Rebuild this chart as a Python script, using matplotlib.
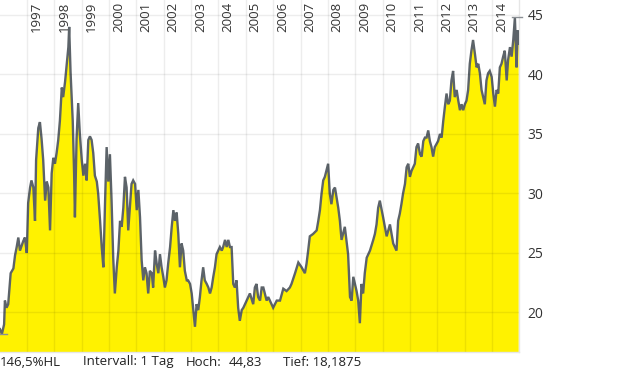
import matplotlib
matplotlib.use("Agg")
import matplotlib.pyplot as plt

# ---- data (decimal year, price) ----
years = [
    1996.01, 1996.08, 1996.16, 1996.19, 1996.25, 1996.31, 1996.40, 1996.50, 1996.56, 1996.62,
    1996.68, 1996.74, 1996.86, 1996.92, 1996.99, 1997.04, 1997.11, 1997.16, 1997.23, 1997.29,
    1997.33, 1997.41, 1997.47, 1997.53, 1997.59, 1997.66, 1997.72, 1997.78, 1997.84, 1997.90,
    1997.96, 1998.02, 1998.08, 1998.14, 1998.20, 1998.27, 1998.32, 1998.39, 1998.45, 1998.51,
    1998.54, 1998.59, 1998.67, 1998.72, 1998.75, 1998.81, 1998.87, 1998.93, 1999.00, 1999.06,
    1999.12, 1999.18, 1999.24, 1999.30, 1999.36, 1999.42, 1999.48, 1999.55, 1999.60, 1999.67,
    1999.73, 1999.79, 1999.85, 1999.91, 1999.97, 2000.03, 2000.09, 2000.15, 2000.21, 2000.28,
    2000.34, 2000.40, 2000.46, 2000.52, 2000.58, 2000.64, 2000.70, 2000.76, 2000.82, 2000.88,
    2000.95, 2001.01, 2001.07, 2001.13, 2001.19, 2001.25, 2001.31, 2001.37, 2001.43, 2001.49,
    2001.56, 2001.61, 2001.68, 2001.74, 2001.80, 2001.86, 2001.92, 2001.98, 2002.04, 2002.10,
    2002.16, 2002.23, 2002.29, 2002.35, 2002.41, 2002.47, 2002.53, 2002.59, 2002.65, 2002.71,
    2002.77, 2002.84, 2002.89, 2002.96, 2003.02, 2003.08, 2003.14, 2003.20, 2003.26, 2003.32,
    2003.38, 2003.44, 2003.50, 2003.57, 2003.63, 2003.69, 2003.75, 2003.81, 2003.87, 2003.93,
    2003.99, 2004.05, 2004.12, 2004.17, 2004.24, 2004.30, 2004.36, 2004.42, 2004.48, 2004.54,
    2004.60, 2004.66, 2004.72, 2004.78, 2004.85, 2004.91, 2004.97, 2005.03, 2005.09, 2005.15,
    2005.27, 2005.33, 2005.39, 2005.45, 2005.52, 2005.58, 2005.64, 2005.76, 2005.82, 2005.94,
    2006.00, 2006.13, 2006.25, 2006.37, 2006.49, 2006.61, 2006.67, 2006.80, 2006.92, 2007.04,
    2007.16, 2007.22, 2007.28, 2007.34, 2007.46, 2007.59, 2007.65, 2007.71, 2007.77, 2007.83,
    2007.89, 2008.01, 2008.07, 2008.13, 2008.20, 2008.26, 2008.38, 2008.44, 2008.50, 2008.62,
    2008.74, 2008.81, 2008.87, 2008.93, 2009.05, 2009.11, 2009.17, 2009.23, 2009.29, 2009.35,
    2009.42, 2009.54, 2009.66, 2009.72, 2009.78, 2009.84, 2009.90, 2010.02, 2010.15, 2010.27,
    2010.39, 2010.45, 2010.51, 2010.57, 2010.63, 2010.69, 2010.75, 2010.82, 2010.88, 2010.94,
    2011.00, 2011.06, 2011.12, 2011.18, 2011.24, 2011.30, 2011.37, 2011.43, 2011.49, 2011.55,
    2011.61, 2011.67, 2011.73, 2011.79, 2011.85, 2011.91, 2011.98, 2012.03, 2012.10, 2012.16,
    2012.22, 2012.28, 2012.34, 2012.40, 2012.46, 2012.52, 2012.58, 2012.64, 2012.71, 2012.77,
    2012.83, 2012.89, 2012.95, 2013.01, 2013.07, 2013.13, 2013.19, 2013.25, 2013.31, 2013.38,
    2013.44, 2013.50, 2013.56, 2013.62, 2013.68, 2013.74, 2013.80, 2013.86, 2013.92, 2013.99,
    2014.05, 2014.11, 2014.17, 2014.23, 2014.29, 2014.35, 2014.41, 2014.47, 2014.54, 2014.59,
    2014.66, 2014.72, 2014.78, 2014.84, 2014.90, 2014.94, 2014.98,
]
prices = [
    18.6, 18.2, 19.0, 21.0, 20.4, 20.7, 23.3, 23.7, 24.8, 25.5,
    26.3, 25.2, 26.0, 26.3, 25.0, 29.2, 30.5, 31.1, 30.5, 27.7,
    32.8, 35.5, 36.0, 34.6, 32.8, 29.4, 31.0, 30.5, 26.9, 31.7,
    33.0, 32.5, 33.4, 34.5, 36.1, 38.9, 38.1, 39.4, 40.9, 42.3,
    44.0, 40.2, 36.1, 31.7, 28.0, 34.6, 37.6, 35.0, 32.8, 31.5,
    32.5, 31.1, 34.5, 34.8, 34.5, 33.4, 31.5, 31.0, 30.0, 27.7,
    25.5, 23.8, 29.1, 33.9, 31.0, 33.3, 29.4, 24.6, 21.6, 23.8,
    25.2, 27.7, 27.2, 28.8, 31.4, 30.5, 26.9, 28.8, 30.8, 31.1,
    30.8, 28.6, 30.3, 28.0, 24.4, 22.7, 23.8, 23.3, 21.6, 23.5,
    23.3, 22.1, 25.2, 24.1, 23.3, 24.9, 23.8, 23.0, 22.1, 22.7,
    24.1, 25.5, 27.2, 28.6, 27.7, 28.4, 26.6, 23.8, 25.8, 25.2,
    23.5, 22.7, 22.7, 22.4, 21.6, 20.2, 18.8, 20.7, 20.2, 21.3,
    22.7, 23.8, 22.7, 22.4, 22.1, 21.6, 22.1, 23.0, 23.8, 24.9,
    25.2, 25.5, 25.2, 25.5, 26.1, 25.5, 26.1, 25.5, 25.5, 22.4,
    22.1, 22.7, 20.4, 19.3, 20.2, 20.4, 20.7, 21.0, 21.3, 21.6,
    20.7, 22.1, 22.4, 21.3, 21.0, 22.1, 22.1, 21.0, 21.3, 20.7,
    20.4, 21.0, 21.0, 22.0, 21.8, 22.1, 22.4, 23.3, 24.2, 23.8,
    23.3, 24.1, 25.2, 26.4, 26.6, 26.9, 27.7, 28.6, 30.0, 31.1,
    31.4, 32.5, 30.0, 29.1, 30.3, 30.5, 28.8, 27.7, 26.1, 27.2,
    24.9, 21.3, 21.0, 23.0, 21.8, 21.0, 19.1, 22.4, 21.6, 23.3,
    24.6, 25.2, 26.1, 26.6, 27.4, 28.8, 29.4, 28.0, 26.4, 27.4,
    25.8, 25.5, 25.2, 27.7, 28.3, 29.1, 30.0, 30.8, 32.2, 32.5,
    31.4, 31.9, 32.2, 32.5, 33.9, 34.2, 33.3, 33.1, 34.4, 34.7,
    34.7, 35.3, 34.4, 33.9, 33.1, 33.9, 34.2, 34.4, 35.0, 34.7,
    36.1, 37.3, 38.4, 37.5, 37.8, 39.5, 40.3, 38.1, 38.7, 37.8,
    37.0, 37.5, 37.0, 37.5, 37.8, 38.7, 40.9, 42.0, 42.9, 41.7,
    40.6, 40.9, 40.1, 38.7, 38.1, 37.5, 39.5, 40.1, 40.3, 39.8,
    38.4, 37.3, 38.7, 38.4, 40.6, 40.9, 41.5, 42.0, 39.5, 41.2,
    42.3, 41.5, 42.9, 44.8, 40.6, 43.7, 42.6,
]
year_labels = list(range(1997, 2015))
y_ticks = [20, 25, 30, 35, 40, 45]
high_value = 44.83
low_value = 18.1875
footer = ["146,5%HL", "Intervall: 1 Tag", "Hoch:", "44,83", "Tief: 18,1875"]

plt.rcParams['font.family'] = ['Open Sans', 'DejaVu Sans']

W, H = 620, 372
fig = plt.figure(figsize=(W / 100, H / 100), dpi=100)
ax = fig.add_axes([0, 1 - 352 / H, 519 / W, 352 / H])

ax.set_xlim(1996.01, 2014.99)
ax.set_ylim(16.68, 46.26)

ax.fill_between(years, prices, 0, color='#fff200', lw=0, zorder=2)
ax.plot(years, prices, color='#5c6369', lw=1.7, zorder=3, solid_joinstyle='miter')

# grid lines on top (subtle)
for yv in y_ticks:
    ax.axhline(yv, color='black', alpha=0.07, lw=1, zorder=4)
for yr in year_labels:
    ax.axvline(yr, color='black', alpha=0.07, lw=1, zorder=4)

# high / low markers
ax.plot([years[0], years[0] + 0.25], [low_value, low_value], color='#8a8f94', lw=1, zorder=5)
ax.plot([2014.73, 2015.1], [high_value, high_value], color='#8a8f94', lw=1,
        zorder=5, clip_on=False)

# year labels at top
for yr in year_labels:
    ax.annotate(str(yr), xy=(yr, 1.0), xycoords=('data', 'axes fraction'),
                xytext=(6.8, -1.5), textcoords='offset points', rotation=90,
                ha='center', va='top', fontsize=9.5, color='#333333', zorder=6)

ax.yaxis.tick_right()
ax.set_yticks(y_ticks)
ax.set_yticklabels([str(v) for v in y_ticks], fontsize=10, color='#333333')
ax.tick_params(axis='y', length=0, pad=6)
ax.set_xticks([])

for s in ['top', 'left']:
    ax.spines[s].set_visible(False)
for s in ['right', 'bottom']:
    ax.spines[s].set_color('#e6e6e6')
    ax.spines[s].set_linewidth(1)
ax.set_facecolor('white')

fx = [0, 82.7, 186, 228.3, 283.3]
for t, x in zip(footer, fx):
    fig.text(x / W, 1 - 362 / H, t, fontsize=9.5, color='#222222', va='center', ha='left')

fig.savefig('out.png', dpi=100)
